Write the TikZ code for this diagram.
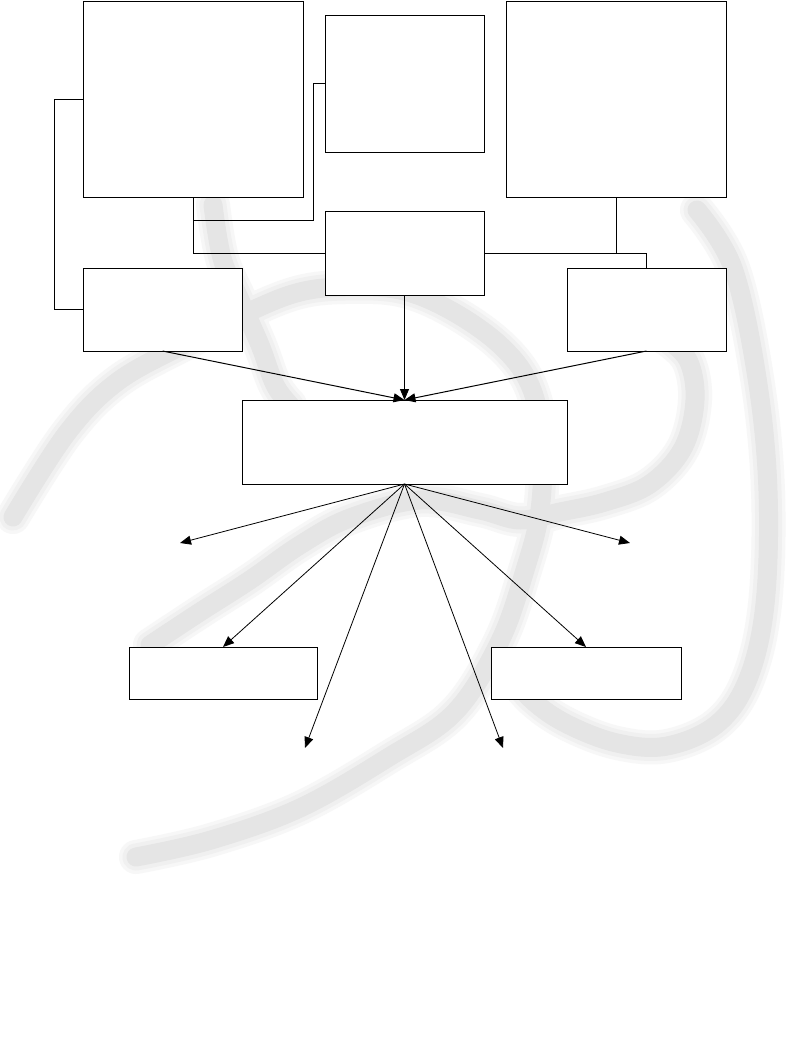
\documentclass[tikz,border=0pt]{standalone}
\usetikzlibrary{arrows.meta}
\begin{document}
\begin{tikzpicture}[x=1pt,y=-1pt,
  box/.style={draw=black, line width=1pt, fill=white, inner sep=0pt, outer sep=0pt, anchor=north west},
  link/.style={draw=black, line width=1pt},
  arr/.style={draw=black, line width=1pt, -{Triangle[length=11pt,width=9pt]}},
  fan/.style={draw=black, line width=0.8pt, -{Triangle[length=11pt,width=9pt]}},
  wma/.style={draw=black!3, line width=34pt, line cap=round, line join=round},
  wmb/.style={draw=black!6, line width=27pt, line cap=round, line join=round},
  wmc/.style={draw=black!10, line width=19pt, line cap=round, line join=round}]
\useasboundingbox (0,0) rectangle (793,1042);
\fill[white] (0,0) rectangle (793,1042);
% watermark swirl
\foreach \st in {wma,wmb,wmc}{
  \draw[\st] plot[smooth, tension=0.6] coordinates {(13,517) (67,433) (117,382) (183,345) (253,310) (300,292) (345,287) (400,290) (450,310) (500,345) (530,385) (542,440) (540,510) (525,570) (500,641) (455,712) (389,757) (300,808) (211,840) (136,857)};
  \draw[\st] plot[smooth, tension=0.6] coordinates {(213,205) (222,258) (240,300) (260,345) (275,385) (290,405)};
  \draw[\st] plot[smooth, tension=0.6] coordinates {(150,645) (200,612) (250,580) (300,545) (350,518) (420,500) (480,510) (520,520) (560,512) (605,502) (650,484) (683,448) (695,400) (688,360) (665,338)};
  \draw[\st] plot[smooth, tension=0.6] coordinates {(697,210) (733,268) (757,378) (768,491) (765,604) (748,679) (717,724) (667,746) (617,743) (567,724) (532,700) (505,668)};
}
% boxes
\node[box, minimum width=220pt, minimum height=196pt] (A) at (83,1) {};
\node[box, minimum width=159pt, minimum height=137pt] (B) at (325,15) {};
\node[box, minimum width=159pt, minimum height=84pt] (C) at (325,211) {};
\node[box, minimum width=159pt, minimum height=83pt] (D) at (83,268) {};
\node[box, minimum width=220pt, minimum height=196pt] (E) at (506,1) {};
\node[box, minimum width=159pt, minimum height=83pt] (F) at (567,268) {};
\node[box, minimum width=325pt, minimum height=84pt] (G) at (242,400) {};
\node[box, minimum width=188pt, minimum height=52pt] (H) at (129,647) {};
\node[box, minimum width=190pt, minimum height=52pt] (I) at (491,647) {};
% connectors
\coordinate (lk) at (54,0);
\coordinate (bk) at (313,220);
\draw[link] (A.west) -- (lk |- A.west) |- (D.west);
\draw[link] (A.south) |- (bk) |- (B.west);
\draw[link] (A.south) |- (C.west);
\draw[link] (C.east) -| (F.north);
\draw[link] (E.south) -- (E.south |- C.east);
\draw[arr] (D.south) -- (G.north);
\draw[arr] (C.south) -- (G.north);
\draw[arr] (F.south) -- (G.north);
% fan
\coordinate (t1) at (180,543);
\coordinate (t3) at (305,748);
\coordinate (t4) at (503,748);
\coordinate (t6) at (630,543);
\draw[fan] (G.south) -- (t1);
\draw[fan] (G.south) -- (H.north);
\draw[fan] (G.south) -- (t3);
\draw[fan] (G.south) -- (t4);
\draw[fan] (G.south) -- (I.north);
\draw[fan] (G.south) -- (t6);
\end{tikzpicture}
\end{document}
